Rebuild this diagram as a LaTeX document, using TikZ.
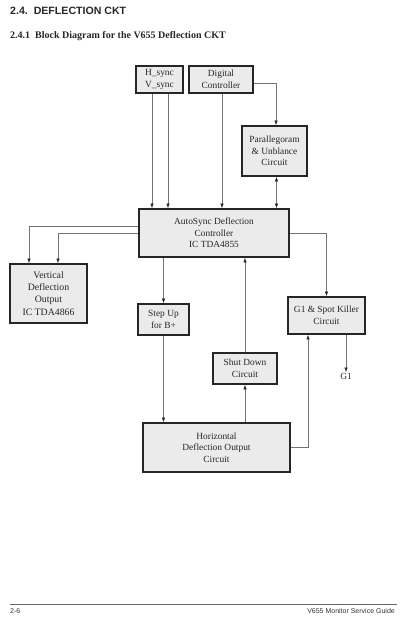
\documentclass[tikz,border=0pt]{standalone}
\usepackage{fontspec}
\setmainfont{Liberation Serif}
\newfontfamily\hdfont{Liberation Sans}
\usetikzlibrary{arrows.meta,calc}
\begin{document}
\begin{tikzpicture}[x=1pt,y=-1pt,
  blk/.style={draw=black!85,line width=1.7pt,fill=black!8,inner sep=1pt,align=center,
    font=\fontsize{9.4}{11.6}\selectfont,text=black!85},
  conn/.style={draw=black!55,line width=0.5pt},
  arr/.style={conn,-{Latex[length=4.5pt,width=3.4pt,color=black!85]}},
  barr/.style={conn,{Latex[length=4.5pt,width=3.4pt,color=black!85]}-{Latex[length=4.5pt,width=3.4pt,color=black!85]}}]
\useasboundingbox (0,0) rectangle (400,623);
% headings
\node[anchor=base west,inner sep=0,font=\hdfont\bfseries\fontsize{10.6}{12}\selectfont,text=black!85] (ttl) at (10,15) {2.4.\ \ DEFLECTION CKT};
\node[anchor=base west,inner sep=0,font=\bfseries\fontsize{10}{12}\selectfont,text=black!85] (sub) at (10,39) {2.4.1\ \ Block Diagram for the V655 Deflection CKT};
% blocks
\node[blk,minimum width=47pt,minimum height=27pt] (hv) at (159.5,79.5) {H\_sync\\V\_sync};
\node[blk,minimum width=64pt,minimum height=27pt] (dig) at (221,79.5) {Digital\\Controller};
\node[blk,minimum width=65pt,minimum height=50pt] (par) at (274.5,151) {Parallegoram\\\& Unblance\\Circuit};
\node[blk,minimum width=150pt,minimum height=48pt] (auto) at (214,233) {AutoSync Deflection\\Controller\\IC TDA4855};
\node[blk,minimum width=77pt,minimum height=59pt,font=\fontsize{9.8}{12.2}\selectfont] (vert) at (48.5,293.5) {Vertical\\Deflection\\Output\\IC TDA4866};
\node[blk,minimum width=51pt,minimum height=31pt] (step) at (163.5,319.5) {Step Up\\for B+};
\node[blk,minimum width=77pt,minimum height=37pt] (g1) at (326.5,315.5) {G1 \& Spot Killer\\Circuit};
\node[blk,minimum width=64pt,minimum height=31pt] (shut) at (245,368.5) {Shut Down\\Circuit};
\node[blk,minimum width=147pt,minimum height=49pt] (hor) at (216.5,447.5) {Horizontal\\Deflection Output\\Circuit};
\node[anchor=north,inner sep=1pt,font=\fontsize{9.4}{11}\selectfont,text=black!85] (g1l) at (346,372) {G1};
% connectors
\draw[arr] ([xshift=-7.5pt]hv.south) -- ([xshift=-7.5pt]hv.south |- auto.north);
\draw[arr] ([xshift=8.5pt]hv.south) -- ([xshift=8.5pt]hv.south |- auto.north);
\draw[arr] ([xshift=1pt]dig.south) -- ([xshift=1pt]dig.south |- auto.north);
\draw[arr] ([yshift=-3.5pt]dig.east) -| ([xshift=1.5pt]par.north);
\draw[barr] ([xshift=2pt]par.south) -- ([xshift=2pt]par.south |- auto.north);
\draw[arr] ([yshift=7pt]auto.west) -| ([xshift=-19.5pt]vert.north);
\draw[arr] (auto.west) -| ([xshift=9.5pt]vert.north);
\draw[arr] (auto.south -| step.north) -- (step.north);
\draw[arr] (auto.east) -| (g1.north);
\draw[arr] (step.south) -- (step.south |- hor.north);
\draw[arr] (shut.north) -- (shut.north |- auto.south);
\draw[arr] (hor.north -| shut.south) -- (shut.south);
\draw[arr] (hor.east) -| ([xshift=-18.5pt]g1.south);
\draw[arr] ([xshift=19.5pt]g1.south) -- (g1l.north);
% footer
\coordinate (fl) at (10,604);
\coordinate (fr) at (397,604);
\draw[draw=black!60,line width=0.6pt] (fl) -- (fr);
\node[anchor=base west,inner sep=0,font=\hdfont\fontsize{7}{8}\selectfont,text=black!80] (pg) at (10,613) {2-6};
\node[anchor=base east,inner sep=0,font=\hdfont\fontsize{7}{8}\selectfont,text=black!80] (guide) at (395,613) {V655 Monitor Service Guide};
\end{tikzpicture}
\end{document}
